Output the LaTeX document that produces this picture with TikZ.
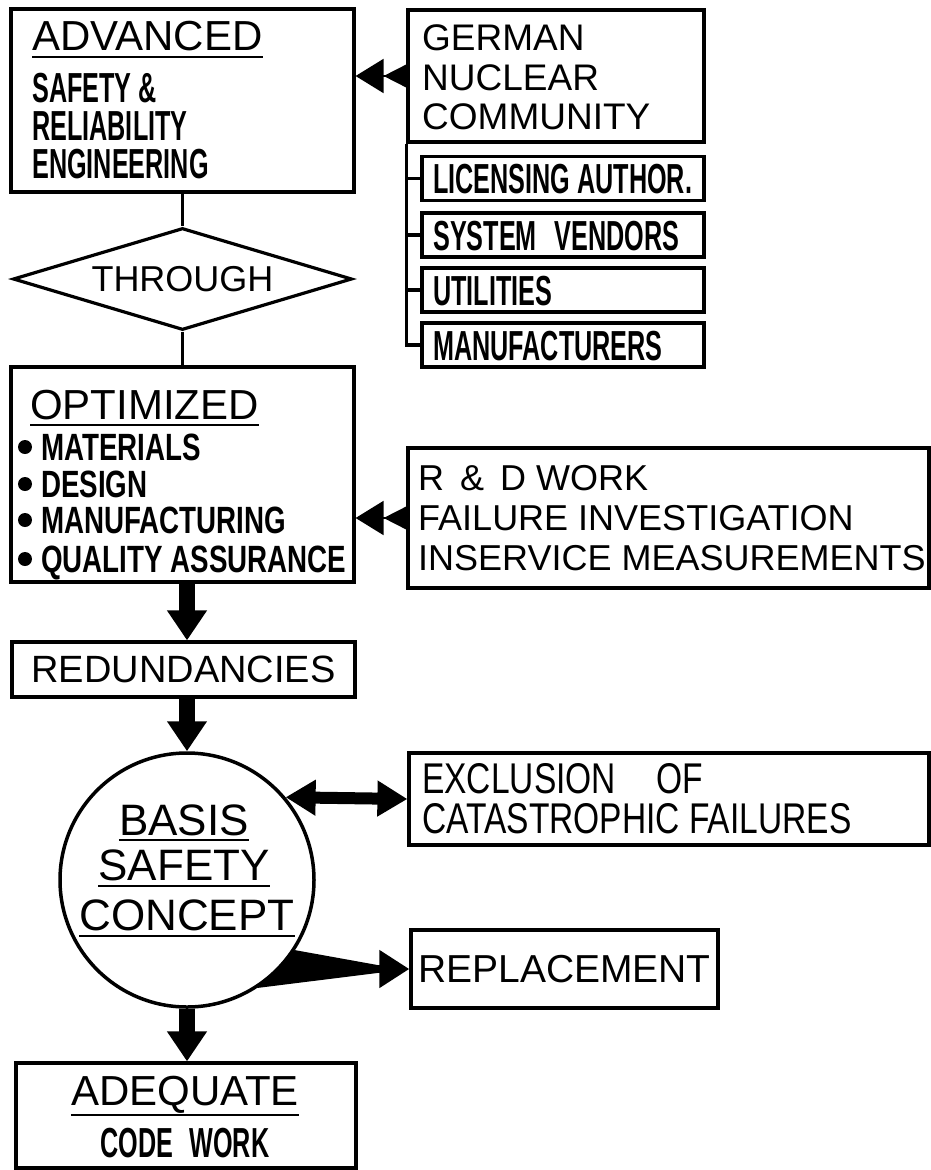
\documentclass[tikz,border=0pt]{standalone}
\usepackage{fontspec}
\setmainfont{Liberation Sans}
\newfontfamily\condfont[FakeStretch=0.6]{Liberation Sans}
\newfontfamily\itemfont[FakeStretch=0.73]{Liberation Sans}
\newfontfamily\narrowfont[FakeStretch=0.78]{Liberation Sans}
\usetikzlibrary{arrows.meta}
\usetikzlibrary{shapes.geometric}

\begin{document}
\begin{tikzpicture}[x={(1pt,0)}, y={(0,-1pt)},
  box/.style={draw, line width=3.2pt, rectangle, inner sep=0pt},
  lbl/.style={inner sep=0pt, anchor=base west},
  ctr/.style={inner sep=0pt, anchor=base},
  big/.style={font=\fontsize{42}{48}\selectfont},
  cond/.style={font=\condfont\bfseries\fontsize{42}{48}\selectfont},
  item/.style={font=\itemfont\bfseries\fontsize{38}{42}\selectfont},
  dot/.style={circle, fill, minimum size=14pt, inner sep=0pt},
  rule/.style={line width=2.6pt},
  link/.style={line width=3.2pt},
  fat/.style={line width=16pt, -{Triangle[length=30pt,width=38pt]}},
  twin/.style={line width=2pt, -{Triangle[length=26pt,width=26pt]Triangle[length=28pt,width=34pt]}}]

\useasboundingbox (0,0) rectangle (931,1170);

\node[box, minimum width=343pt, minimum height=183pt] (advanced) at (182.5,100.5) {};
\node[lbl, big] (advtitle) at (32,50) {ADVANCED};
\draw[rule] ([yshift=-7pt]advtitle.base west) -- ([yshift=-7pt]advtitle.base east);
\node[lbl, cond] (advsafety) at (32,102) {SAFETY \&};
\node[lbl, cond] (advrelia) at (32,140) {RELIABILITY};
\node[lbl, cond] (adveng) at (32,178) {ENGINEERING};

\node[draw, link, diamond, aspect=3.3, minimum width=339pt, minimum height=102pt, inner sep=0pt, font=\fontsize{36}{36}\selectfont] (through) at (182.5,279) {THROUGH};

\node[box, minimum width=343pt, minimum height=215pt] (optimized) at (182.5,474.5) {};
\node[lbl, big] (opttitle) at (30,419) {OPTIMIZED};
\draw[rule] ([yshift=-6pt]opttitle.base west) -- ([yshift=-6pt]opttitle.base east);
\node[dot] (matdot) at (25,447) {};
\node[dot] (desdot) at (25,484) {};
\node[dot] (mandot) at (25,520) {};
\node[dot] (qadot) at (25,559) {};
\node[lbl, item] (optmat) at (41,460) {MATERIALS};
\node[lbl, item] (optdes) at (41,497) {DESIGN};
\node[lbl, item] (optman) at (41,533) {MANUFACTURING};
\node[lbl, item] (optqa) at (41,572) {QUALITY ASSURANCE};

\draw[link] (advanced) -- (through);
\draw[link] (through) -- (optimized);

\node[box, minimum width=296pt, minimum height=132pt] (german) at (556,76) {};
\node[lbl, font=\fontsize{37}{37}\selectfont] (germanl1) at (422,50) {GERMAN};
\node[lbl, font=\fontsize{37}{37}\selectfont] (germanl2) at (422,90) {NUCLEAR};
\node[lbl, font=\fontsize{37}{37}\selectfont] (germanl3) at (422,129) {COMMUNITY};

\node[box, minimum width=282pt, minimum height=44pt] (licensing) at (563,178.5) {};
\node[box, minimum width=282pt, minimum height=44pt] (vendors) at (563,235) {};
\node[box, minimum width=282pt, minimum height=44pt] (utilities) at (563,290) {};
\node[box, minimum width=282pt, minimum height=44pt] (manuf) at (563,345) {};
\node[lbl, cond] (licensingtxt) at (433,193.5) {LICENSING AUTHOR.};
\node[lbl, cond] (vendorstxt) at (433,250) {SYSTEM\hspace{18pt}VENDORS};
\node[lbl, cond] (utilitiestxt) at (433,305) {UTILITIES};
\node[lbl, cond] (manuftxt) at (433,360) {MANUFACTURERS};

\draw[link] (german.south west) |- (manuf.west);
\draw[link] (licensing.west -| german.south west) -- (licensing.west);
\draw[link] (vendors.west -| german.south west) -- (vendors.west);
\draw[link] (utilities.west -| german.south west) -- (utilities.west);

\draw[twin] (german.west) -- (german.west -| advanced.east);

\node[box, minimum width=521pt, minimum height=140pt] (rdwork) at (668.5,518) {};
\node[lbl, font=\fontsize{36}{36}\selectfont] (rdl1) at (418,490) {R \,\&\, D WORK};
\node[lbl, font=\fontsize{36}{36}\selectfont] (rdl2) at (418,530) {FAILURE INVESTIGATION};
\node[lbl, font=\fontsize{36}{36}\selectfont] (rdl3) at (418,570) {INSERVICE MEASUREMENTS};
\draw[twin] (rdwork.west) -- (rdwork.west -| optimized.east);

\node[box, minimum width=343pt, minimum height=55pt, font=\fontsize{38}{38}\selectfont] (redund) at (183.5,669.5) {REDUNDANCIES};

\node[draw, circle, line width=3.5pt, minimum size=254pt, inner sep=0pt] (basis) at (187,880) {};
\node[ctr, font=\fontsize{44}{44}\selectfont] (basistxt) at (184,835) {BASIS};
\draw[rule] ([yshift=-5pt]basistxt.base west) -- ([yshift=-5pt]basistxt.base east);
\node[ctr, font=\fontsize{44}{44}\selectfont] (safetytxt) at (184,880) {SAFETY};
\draw[rule] ([yshift=-6pt]safetytxt.base west) -- ([yshift=-6pt]safetytxt.base east);
\node[ctr, font=\fontsize{44}{44}\selectfont] (concepttxt) at (187,930) {CONCEPT};
\draw[rule] ([yshift=-6pt]concepttxt.base west) -- ([yshift=-6pt]concepttxt.base east);

\draw[fat] (optimized.south -| basis) -- (redund.north -| basis);
\draw[fat] (redund.south -| basis) -- (basis.north);

\node[box, minimum width=520pt, minimum height=92pt] (exclusion) at (669,799) {};
\node[lbl, font=\narrowfont\fontsize{43}{43}\selectfont] (exclusionl1) at (422,793) {EXCLUSION\hspace{40pt}OF};
\node[lbl, font=\narrowfont\fontsize{43}{43}\selectfont] (exclusionl2) at (422,833) {CATASTROPHIC FAILURES};
\draw[line width=12pt, {Triangle[length=30pt,width=34pt]}-{Triangle[length=30pt,width=34pt]}] (basis.40) -- (exclusion.west);

\node[box, minimum width=307pt, minimum height=78pt, font=\fontsize{39}{39}\selectfont] (replacement) at (564.5,969) {REPLACEMENT};
\fill (basis.-33) -- ([shift={(-32pt,4pt)}]replacement.west) -- ([shift={(-32pt,-4pt)}]replacement.west) -- (basis.-57) -- cycle;
\draw[line width=8pt, -{Triangle[length=30pt,width=36pt]}] ([xshift=-34pt]replacement.west) -- (replacement.west);

\node[box, minimum width=340pt, minimum height=105pt] (adequate) at (186,1115.5) {};
\node[ctr, big] (adqtitle) at (185,1105) {ADEQUATE};
\draw[rule] ([yshift=-10pt]adqtitle.base west) -- ([yshift=-10pt]adqtitle.base east);
\node[ctr, cond] (codework) at (185,1157) {CODE\hspace{16pt}WORK};

\draw[fat] (basis.south) -- (adequate.north -| basis);

\end{tikzpicture}
\end{document}
